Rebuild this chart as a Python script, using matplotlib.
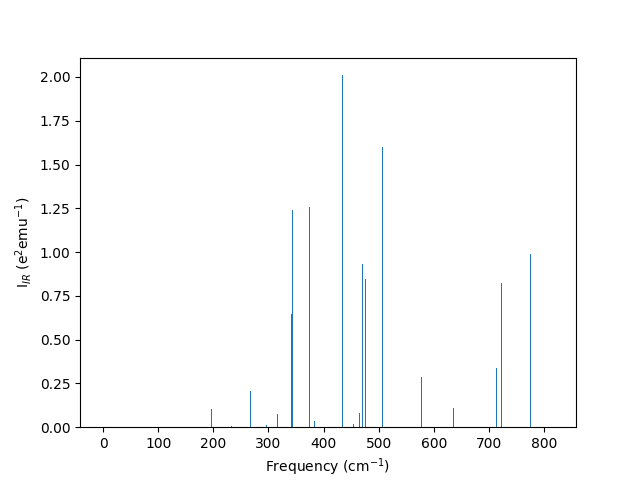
import matplotlib
matplotlib.use("Agg")
import matplotlib.pyplot as plt

# IR modes: frequency (cm^-1) and intensity
freqs = [0.0, 0.0, 0.0, 196.5, 232.8, 267.3, 296.0, 316.0, 341.6, 343.4,
         374.3, 383.3, 434.1, 454.0, 465.0, 470.4, 475.8, 506.7, 577.4,
         635.5, 713.5, 722.5, 775.2, 816.0]
intens = [0.0, 0.0, 0.0, 0.103, 0.005, 0.206, 0.012, 0.075, 0.646, 1.24,
          1.257, 0.034, 2.01, 0.017, 0.08, 0.93, 0.846, 1.60, 0.286,
          0.109, 0.337, 0.823, 0.989, 0.002]

fig, ax = plt.subplots(figsize=(6.4, 4.8), dpi=100)
ax.bar(freqs, intens, width=2)
ax.set_xlabel(r"Frequency (cm$^{-1}$)")
ax.set_ylabel(r"I$_{IR}$ (e$^2$emu$^{-1}$)")
fig.savefig("out.png")
